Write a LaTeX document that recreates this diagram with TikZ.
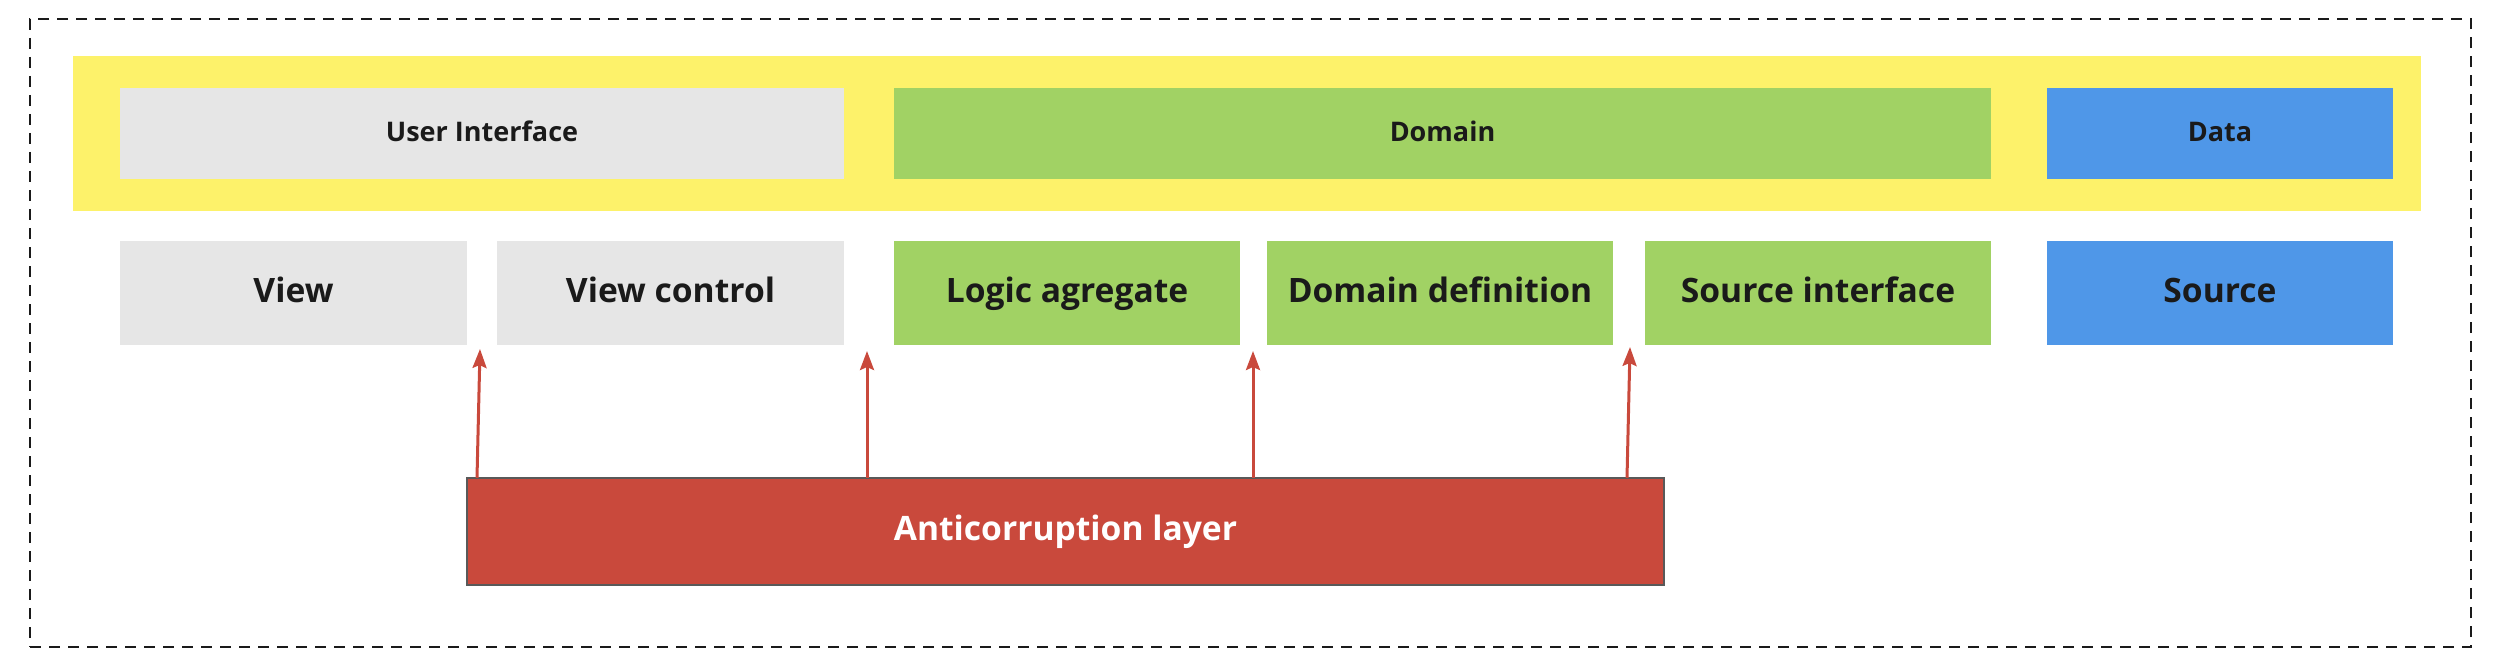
\documentclass[tikz,border=0pt]{standalone}
\usepackage{fontspec}
\setmainfont{Open Sans}[BoldFont={* Bold}]
\usetikzlibrary{arrows.meta}
\definecolor{ylw}{HTML}{FDF26A}
\definecolor{gry}{HTML}{E6E6E6}
\definecolor{grn}{HTML}{A1D264}
\definecolor{blu}{HTML}{4F97E8}
\definecolor{red}{HTML}{C9493C}
\definecolor{ink}{HTML}{1A1A1A}
\tikzset{
  box/.style={draw=none, inner sep=0pt, outer sep=0pt, anchor=center, text=ink, font=\bfseries},
  toplbl/.style={box, minimum height=45.5pt, text height=10.5pt, text depth=3pt, font=\bfseries\fontsize{13.5}{16}\selectfont},
  rowlbl/.style={box, minimum height=52pt, text height=13pt, text depth=4pt, font=\bfseries\fontsize{16.8}{20}\selectfont},
  arr/.style={draw=red, line width=1.5pt, -{Stealth[length=9.5pt,width=7pt,inset=1.5pt]}},
}
\begin{document}
\begin{tikzpicture}[x=0.5pt,y=-0.5pt]
\useasboundingbox (0,0) rectangle (2496,670);
% outer dashed frame
\node[draw=ink, line width=1.2pt, dash pattern=on 5.5pt off 4pt, inner sep=0pt, minimum width=1220.5pt, minimum height=314pt] (frame) at (1250.5,333) {};
% yellow band
\node[box, fill=ylw, minimum width=1174pt, minimum height=77.5pt] (band) at (1247,133.5) {};
% top labels
\node[toplbl, fill=gry, minimum width=362pt] (ui) at (482,133.5) {User Interface};
\node[toplbl, fill=grn, minimum width=548.5pt] (dom) at (1442.5,133.5) {Domain};
\node[toplbl, fill=blu, minimum width=173pt] (data) at (2220,133.5) {Data};
% second row
\node[rowlbl, fill=gry, minimum width=173.5pt] (view) at (293.5,293) {View};
\node[rowlbl, fill=gry, minimum width=173.5pt] (vc) at (670.5,293) {View control};
\node[rowlbl, fill=grn, minimum width=173pt] (logic) at (1067,293) {Logic agregate};
\node[rowlbl, fill=grn, minimum width=173pt] (ddef) at (1440,293) {Domain definition};
\node[rowlbl, fill=grn, minimum width=173pt] (sint) at (1818,293) {Source interface};
\node[rowlbl, fill=blu, minimum width=173pt] (src) at (2220,293) {Source};
% anticorruption layer
\node[rowlbl, fill=red, draw=black!65, line width=1pt, text=white, minimum width=598.5pt, minimum height=53.5pt] (acl) at (1065.5,531.5) {Anticorruption layer};
% arrows
\coordinate (s1) at (477,478); \coordinate (t1) at (480,349);
\coordinate (s2) at (867,478); \coordinate (t2) at (867,351);
\coordinate (s3) at (1253,478); \coordinate (t3) at (1253,351);
\coordinate (s4) at (1627,478); \coordinate (t4) at (1630,347);
\draw[arr] (s1) -- (t1);
\draw[arr] (s2) -- (t2);
\draw[arr] (s3) -- (t3);
\draw[arr] (s4) -- (t4);
\end{tikzpicture}
\end{document}
